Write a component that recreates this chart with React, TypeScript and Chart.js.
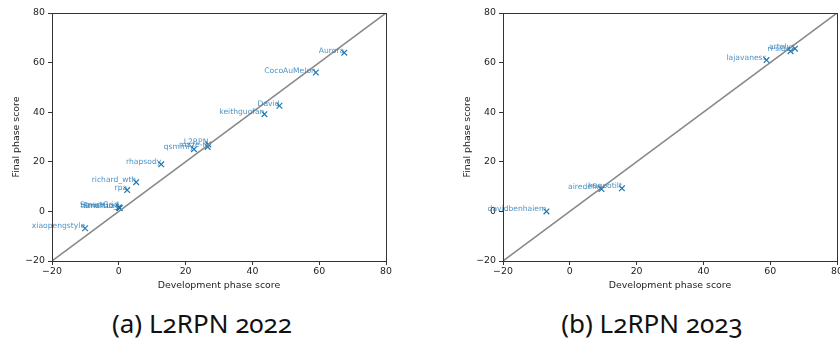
import React, { useEffect, useRef } from "react";
import { Chart, registerables } from "chart.js";
Chart.register(...registerables);

// ---- Data: L2RPN 2022 ----
const names2022 = [
  "xiaopengstyle", "tianshuo_l", "SmartGrid", "SmartLab", "rpa", "richard_wth",
  "rhapsody", "qsmmly", "maze-rl", "L2RPN", "keithguofan", "David",
  "CocoAuMelon", "Aurora",
];
const dev2022 = [-10.1, 0.1, 0.0, 0.3, 2.5, 5.2, 12.7, 22.5, 26.6, 26.8, 43.6, 48.1, 59.0, 67.5];
const final2022 = [-6.8, 1.5, 1.6, 1.4, 8.6, 11.8, 19.0, 25.1, 26.0, 27.0, 39.2, 42.6, 56.0, 64.0];

// ---- Data: L2RPN 2023 ----
const names2023 = ["davidbenhaiem", "airedefin", "hugootilt", "lajavaness", "n-side", "artelys"];
const dev2023 = [-7.0, 9.5, 15.6, 58.9, 66.1, 67.4];
const final2023 = [0.0, 9.0, 9.3, 61.0, 64.6, 65.6];

const axisMin = -20;
const axisMax = 80;
const tickStep = 20;
const diagonal = [axisMin, axisMax];

const captions = ["(a) L2RPN 2022", "(b) L2RPN 2023"];

const FONT = "'DejaVu Sans', sans-serif";
const AX_FONT = 9.4;

const labelPlugin = {
  id: "ptlabels",
  afterDatasetsDraw(chart: any, _args: any, opts: any) {
    const { ctx, chartArea, scales } = chart;
    ctx.save();
    ctx.font = "7.6px " + FONT;
    ctx.fillStyle = "rgba(31,119,180,0.8)";
    ctx.textAlign = "right";
    ctx.textBaseline = "alphabetic";
    const names: string[] = opts.names || [];
    names.forEach((n: string, i: number) => {
      ctx.fillText(n, scales.x.getPixelForValue(opts.xs[i]), scales.y.getPixelForValue(opts.ys[i]));
    });
    ctx.strokeStyle = "#333";
    ctx.lineWidth = 1;
    ctx.strokeRect(
      Math.round(chartArea.left) + 0.5,
      Math.round(chartArea.top) + 0.5,
      Math.round(chartArea.right - chartArea.left),
      Math.round(chartArea.bottom - chartArea.top)
    );
    ctx.restore();
  },
};

const fmt = (v: any) => String(v).replace("-", "\u2212");

function Panel({ names, xs, ys, left }: { names: string[]; xs: number[]; ys: number[]; left: number }) {
  const ref = useRef<HTMLCanvasElement>(null);
  useEffect(() => {
    const canvas = ref.current!;
    const chart = new Chart(canvas, {
      type: "scatter",
      data: {
        datasets: [
          {
            data: diagonal.map((v) => ({ x: v, y: v })),
            showLine: true,
            pointRadius: 0,
            borderColor: "#888888",
            borderWidth: 1.5,
          } as any,
          {
            data: xs.map((x, i) => ({ x, y: ys[i] })),
            pointStyle: "crossRot",
            pointRadius: 4,
            pointBorderWidth: 1.2,
            borderColor: "#1f77b4",
            backgroundColor: "#1f77b4",
          } as any,
        ],
      },
      options: {
        responsive: false,
        animation: false,
        devicePixelRatio: 1,
        layout: { padding: { left: 0, top: 13, right: 34, bottom: 9 } },
        plugins: {
          legend: { display: false },
          tooltip: { enabled: false },
          ptlabels: { names, xs, ys },
        } as any,
        scales: {
          x: {
            type: "linear",
            min: axisMin,
            max: axisMax,
            ticks: { stepSize: tickStep, color: "#222", font: { size: AX_FONT, family: FONT }, padding: 1, callback: fmt },
            grid: { drawOnChartArea: false, drawTicks: true, tickLength: 4, color: "#333" },
            border: { color: "#333" },
            title: {
              display: true,
              text: "Development phase score",
              color: "#222",
              font: { size: AX_FONT, family: FONT },
              padding: { top: 0, bottom: 0 },
            },
            afterFit(s: any) {
              s.height = 30;
            },
          },
          y: {
            type: "linear",
            min: axisMin,
            max: axisMax,
            ticks: { stepSize: tickStep, color: "#222", font: { size: AX_FONT, family: FONT }, padding: 3, callback: fmt },
            grid: { drawOnChartArea: false, drawTicks: true, tickLength: 4, color: "#333" },
            border: { color: "#333" },
            title: {
              display: true,
              text: "Final phase score",
              color: "#222",
              font: { size: AX_FONT, family: FONT },
              padding: { top: 11, bottom: 0 },
            },
            afterFit(s: any) {
              s.width = 52;
            },
          },
        },
      } as any,
      plugins: [labelPlugin],
    });
    return () => chart.destroy();
  }, []);
  return (
    <canvas
      ref={ref}
      width={420}
      height={300}
      style={{ position: "absolute", left, top: 0, width: 420, height: 300 }}
    />
  );
}

export default function App() {
  const capStyle: React.CSSProperties = {
    position: "absolute",
    top: 303,
    width: 300,
    textAlign: "center",
    fontFamily: "'Noto Sans', sans-serif",
    fontSize: 26,
    fontVariantNumeric: "oldstyle-nums",
    color: "#111",
    whiteSpace: "nowrap",
    lineHeight: "40px",
  };
  return (
    <div
      style={{
        position: "fixed",
        left: 0,
        top: 0,
        width: 840,
        height: 342,
        overflow: "hidden",
        background: "#fff",
      }}
    >
      <Panel names={names2022} xs={dev2022} ys={final2022} left={0} />
      <Panel names={names2023} xs={dev2023} ys={final2023} left={451} />
      <div style={{ ...capStyle, left: 202 - 150 }}>{captions[0]}</div>
      <div style={{ ...capStyle, left: 652 - 150 }}>{captions[1]}</div>
    </div>
  );
}
